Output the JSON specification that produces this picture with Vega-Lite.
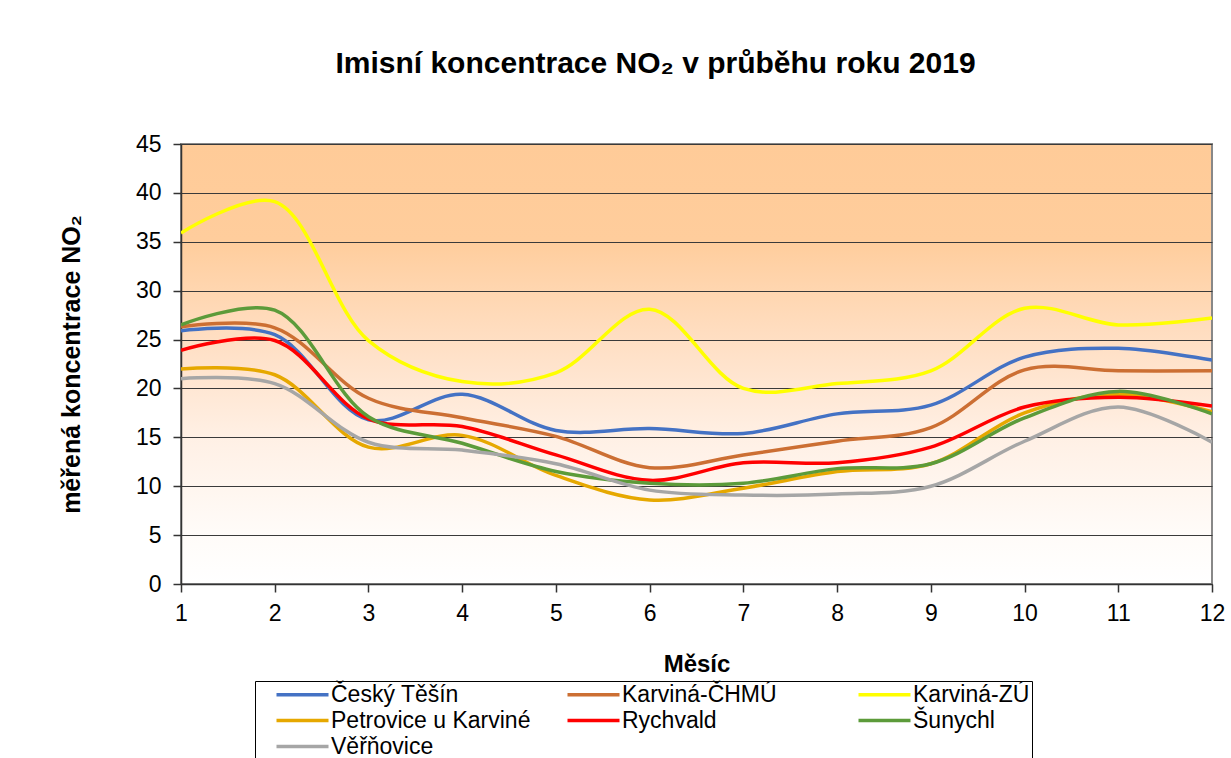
{
  "$schema": "https://vega.github.io/schema/vega-lite/v6.json",
  "width": 1031,
  "height": 440,
  "autosize": {"type": "none"},
  "padding": {"left": 181, "top": 144, "right": 19, "bottom": 174},
  "background": "white",
  "title": {
    "text": "Imisní koncentrace NO₂ v průběhu roku 2019",
    "font": "Liberation Sans",
    "fontSize": 30,
    "fontWeight": "bold",
    "color": "black",
    "anchor": "middle",
    "dx": -41,
    "offset": 54
  },
  "config": {
    "view": {
      "fill": {
        "gradient": "linear",
        "x1": 0, "y1": 0, "x2": 0, "y2": 1,
        "stops": [
          {"offset": 0, "color": "#FFCB98"},
          {"offset": 0.22, "color": "#FFCD9C"},
          {"offset": 0.45, "color": "#FFDFC4"},
          {"offset": 0.67, "color": "#FFF0E5"},
          {"offset": 0.88, "color": "#FFFBF8"},
          {"offset": 1, "color": "#FFFFFF"}
        ]
      },
      "stroke": "#888888",
      "strokeWidth": 2
    },
    "axis": {
      "labelFont": "Liberation Sans",
      "titleFont": "Liberation Sans",
      "labelFontSize": 23,
      "titleFontSize": 24,
      "labelColor": "black",
      "titleColor": "black",
      "titleFontWeight": "bold",
      "tickColor": "#333333",
      "domainColor": "#333333",
      "tickSize": 8,
      "tickWidth": 1.5,
      "domainWidth": 1.5
    }
  },
  "data": {
    "values": [
      {"station": "Český Těšín", "month": 1, "value": 25.9},
      {"station": "Český Těšín", "month": 2, "value": 25.5},
      {"station": "Český Těšín", "month": 3, "value": 16.8},
      {"station": "Český Těšín", "month": 4, "value": 19.4},
      {"station": "Český Těšín", "month": 5, "value": 15.7},
      {"station": "Český Těšín", "month": 6, "value": 15.9},
      {"station": "Český Těšín", "month": 7, "value": 15.4},
      {"station": "Český Těšín", "month": 8, "value": 17.4},
      {"station": "Český Těšín", "month": 9, "value": 18.3},
      {"station": "Český Těšín", "month": 10, "value": 23.2},
      {"station": "Český Těšín", "month": 11, "value": 24.1},
      {"station": "Český Těšín", "month": 12, "value": 22.9},
      {"station": "Karviná-ČHMÚ", "month": 1, "value": 26.3},
      {"station": "Karviná-ČHMÚ", "month": 2, "value": 26.2},
      {"station": "Karviná-ČHMÚ", "month": 3, "value": 19.0},
      {"station": "Karviná-ČHMÚ", "month": 4, "value": 17.0},
      {"station": "Karviná-ČHMÚ", "month": 5, "value": 15.1},
      {"station": "Karviná-ČHMÚ", "month": 6, "value": 11.9},
      {"station": "Karviná-ČHMÚ", "month": 7, "value": 13.2},
      {"station": "Karviná-ČHMÚ", "month": 8, "value": 14.6},
      {"station": "Karviná-ČHMÚ", "month": 9, "value": 16.0},
      {"station": "Karviná-ČHMÚ", "month": 10, "value": 21.9},
      {"station": "Karviná-ČHMÚ", "month": 11, "value": 21.8},
      {"station": "Karviná-ČHMÚ", "month": 12, "value": 21.8},
      {"station": "Karviná-ZÚ", "month": 1, "value": 35.9},
      {"station": "Karviná-ZÚ", "month": 2, "value": 39.1},
      {"station": "Karviná-ZÚ", "month": 3, "value": 24.9},
      {"station": "Karviná-ZÚ", "month": 4, "value": 20.7},
      {"station": "Karviná-ZÚ", "month": 5, "value": 21.6},
      {"station": "Karviná-ZÚ", "month": 6, "value": 28.1},
      {"station": "Karviná-ZÚ", "month": 7, "value": 20.0},
      {"station": "Karviná-ZÚ", "month": 8, "value": 20.5},
      {"station": "Karviná-ZÚ", "month": 9, "value": 21.8},
      {"station": "Karviná-ZÚ", "month": 10, "value": 28.2},
      {"station": "Karviná-ZÚ", "month": 11, "value": 26.5},
      {"station": "Karviná-ZÚ", "month": 12, "value": 27.2},
      {"station": "Petrovice u Karviné", "month": 1, "value": 22.0},
      {"station": "Petrovice u Karviné", "month": 2, "value": 21.4},
      {"station": "Petrovice u Karviné", "month": 3, "value": 14.0},
      {"station": "Petrovice u Karviné", "month": 4, "value": 15.2},
      {"station": "Petrovice u Karviné", "month": 5, "value": 11.1},
      {"station": "Petrovice u Karviné", "month": 6, "value": 8.6},
      {"station": "Petrovice u Karviné", "month": 7, "value": 9.8},
      {"station": "Petrovice u Karviné", "month": 8, "value": 11.5},
      {"station": "Petrovice u Karviné", "month": 9, "value": 12.3},
      {"station": "Petrovice u Karviné", "month": 10, "value": 17.5},
      {"station": "Petrovice u Karviné", "month": 11, "value": 19.4},
      {"station": "Petrovice u Karviné", "month": 12, "value": 17.6},
      {"station": "Rychvald", "month": 1, "value": 23.9},
      {"station": "Rychvald", "month": 2, "value": 24.9},
      {"station": "Rychvald", "month": 3, "value": 16.9},
      {"station": "Rychvald", "month": 4, "value": 16.1},
      {"station": "Rychvald", "month": 5, "value": 13.2},
      {"station": "Rychvald", "month": 6, "value": 10.6},
      {"station": "Rychvald", "month": 7, "value": 12.4},
      {"station": "Rychvald", "month": 8, "value": 12.4},
      {"station": "Rychvald", "month": 9, "value": 14.0},
      {"station": "Rychvald", "month": 10, "value": 18.1},
      {"station": "Rychvald", "month": 11, "value": 19.1},
      {"station": "Rychvald", "month": 12, "value": 18.2},
      {"station": "Šunychl", "month": 1, "value": 26.5},
      {"station": "Šunychl", "month": 2, "value": 28.0},
      {"station": "Šunychl", "month": 3, "value": 17.1},
      {"station": "Šunychl", "month": 4, "value": 14.4},
      {"station": "Šunychl", "month": 5, "value": 11.5},
      {"station": "Šunychl", "month": 6, "value": 10.3},
      {"station": "Šunychl", "month": 7, "value": 10.3},
      {"station": "Šunychl", "month": 8, "value": 11.8},
      {"station": "Šunychl", "month": 9, "value": 12.3},
      {"station": "Šunychl", "month": 10, "value": 17.0},
      {"station": "Šunychl", "month": 11, "value": 19.7},
      {"station": "Šunychl", "month": 12, "value": 17.4},
      {"station": "Věřňovice", "month": 1, "value": 21.0},
      {"station": "Věřňovice", "month": 2, "value": 20.5},
      {"station": "Věřňovice", "month": 3, "value": 14.5},
      {"station": "Věřňovice", "month": 4, "value": 13.7},
      {"station": "Věřňovice", "month": 5, "value": 12.3},
      {"station": "Věřňovice", "month": 6, "value": 9.6},
      {"station": "Věřňovice", "month": 7, "value": 9.1},
      {"station": "Věřňovice", "month": 8, "value": 9.2},
      {"station": "Věřňovice", "month": 9, "value": 10.0},
      {"station": "Věřňovice", "month": 10, "value": 14.6},
      {"station": "Věřňovice", "month": 11, "value": 18.1},
      {"station": "Věřňovice", "month": 12, "value": 14.5}
    ]
  },
  "mark": {"type": "line", "interpolate": "catmull-rom", "strokeWidth": 3.5, "clip": true},
  "encoding": {
    "x": {
      "field": "month",
      "type": "quantitative",
      "scale": {"domain": [1, 12], "nice": false, "zero": false},
      "axis": {
        "values": [1, 2, 3, 4, 5, 6, 7, 8, 9, 10, 11, 12],
        "format": "d",
        "title": "Měsíc",
        "grid": false,
        "labelPadding": 10,
        "titlePadding": 27,
        "labelFlush": false
      }
    },
    "y": {
      "field": "value",
      "type": "quantitative",
      "scale": {"domain": [0, 45], "nice": false},
      "axis": {
        "values": [0, 5, 10, 15, 20, 25, 30, 35, 40, 45],
        "title": "měřená koncentrace NO₂",
        "titleFontSize": 25,
        "grid": true,
        "gridColor": "#3A3A3A",
        "gridWidth": 1.2,
        "labelPadding": 12,
        "titlePadding": 51
      }
    },
    "color": {
      "field": "station",
      "type": "nominal",
      "scale": {
        "domain": ["Český Těšín", "Karviná-ČHMÚ", "Karviná-ZÚ", "Petrovice u Karviné", "Rychvald", "Šunychl", "Věřňovice"],
        "range": ["#4472C4", "#CC6F33", "#FFFF00", "#E6A800", "#FF0000", "#5C9B3A", "#A6A6A6"]
      },
      "legend": {
        "orient": "none",
        "legendX": 74,
        "legendY": 537,
        "direction": "horizontal",
        "columns": 3,
        "gridAlign": "all",
        "title": null,
        "strokeColor": "black",
        "fillColor": "white",
        "padding": 2,
        "symbolType": "M-5.2,0H5.2",
        "symbolSize": 100,
        "symbolStrokeWidth": 3.5,
        "symbolOffset": 34,
        "labelFont": "Liberation Sans",
        "labelFontSize": 23,
        "labelColor": "black",
        "labelOffset": 17,
        "labelLimit": 400,
        "columnPadding": 17,
        "rowPadding": 2
      }
    }
  }
}
